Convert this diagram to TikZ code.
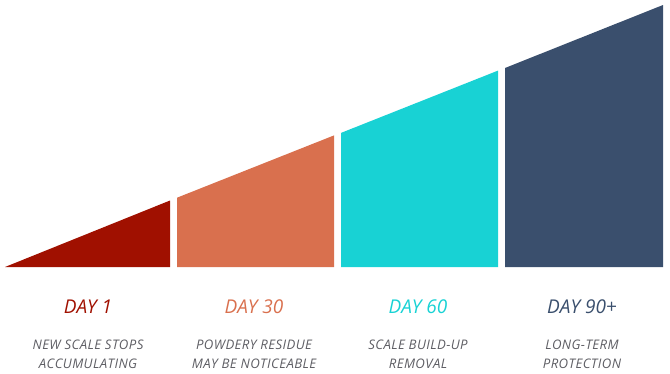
\documentclass[tikz,border=0pt]{standalone}
\usepackage{fontspec}
\setmainfont{Open Sans}
\newfontfamily\descfont[LetterSpace=3]{Open Sans}
\definecolor{cred}{HTML}{A01000}
\definecolor{corange}{HTML}{D9704E}
\definecolor{ccyan}{HTML}{18D2D4}
\definecolor{cnavy}{HTML}{3A4F6D}
\definecolor{cgray}{HTML}{5E5E64}
\tikzset{
  head/.style={font=\fontsize{19}{20}\selectfont\itshape, anchor=center, inner sep=0pt},
  desc/.style={font=\descfont\fontsize{13.2}{19.5}\selectfont\itshape, text=cgray, align=center, anchor=center, inner sep=0pt},
}
\begin{document}
\begin{tikzpicture}[x=1pt,y=-1pt]
\useasboundingbox (0,0) rectangle (670,373);
\fill[cred] (5,267) -- (170,200.5) -- (170,267) -- cycle;
\fill[corange] (177,267) -- (177,197.7) -- (334,135.4) -- (334,267) -- cycle;
\fill[ccyan] (341,267) -- (341,132.9) -- (498,70.6) -- (498,267) -- cycle;
\fill[cnavy] (505,267) -- (505,68) -- (663,5) -- (663,267) -- cycle;
\node[head, text=cred] (h1) at (88,307) {DAY 1};
\node[head, text=corange] (h2) at (254,307) {DAY 30};
\node[head, text=ccyan] (h3) at (418,307) {DAY 60};
\node[head, text=cnavy] (h4) at (582,307) {DAY 90+};
\node[desc] (d1) at (88,354.5) {NEW SCALE STOPS\\ACCUMULATING};
\node[desc] (d2) at (254,354.5) {POWDERY RESIDUE\\MAY BE NOTICEABLE};
\node[desc] (d3) at (418,354.5) {SCALE BUILD-UP\\REMOVAL};
\node[desc] (d4) at (582,354.5) {LONG-TERM\\PROTECTION};
\end{tikzpicture}
\end{document}
